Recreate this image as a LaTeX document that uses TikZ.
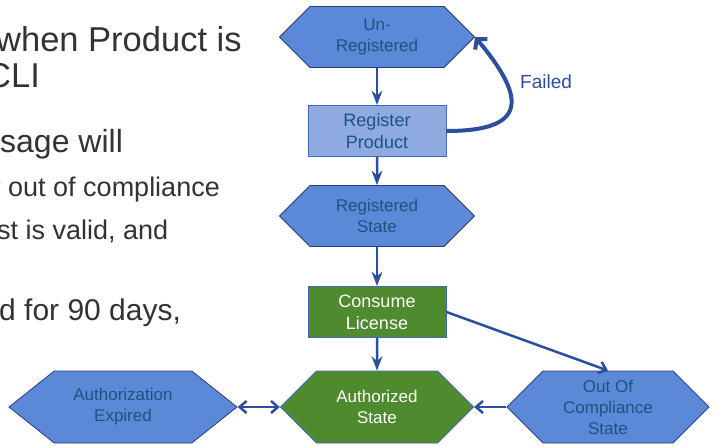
\documentclass[tikz,border=0pt]{standalone}
\usepackage{fontspec}
\setmainfont{Liberation Sans}
\usetikzlibrary{arrows.meta,positioning,shapes.symbols}
\definecolor{hexblue}{RGB}{91,137,216}
\definecolor{hexedge}{RGB}{40,62,120}
\definecolor{hextext}{RGB}{28,84,128}
\definecolor{boxblue}{RGB}{143,170,222}
\definecolor{boxedge}{RGB}{62,105,190}
\definecolor{okgreen}{RGB}{78,138,46}
\definecolor{arrowblue}{RGB}{44,78,158}
\definecolor{bodygray}{RGB}{51,51,51}

\begin{document}
\begin{tikzpicture}[x=1pt,y=-1pt,node distance=95pt,>=Stealth,
    link/.style={draw=arrowblue, line width=2.5pt},
    hex/.style={shape=signal, signal to=west and east, signal pointer angle=90,
      draw=hexedge, line width=0.8pt, fill=hexblue, text=hextext, align=center,
      font=\fontsize{17}{21}\selectfont, minimum width=195pt, minimum height=61pt, inner sep=0pt},
    greenhex/.style={hex, fill=okgreen, text=white, draw=boxedge},
    stepbox/.style={rectangle, draw=boxedge, line width=1pt, fill=boxblue, text=hextext,
      align=center, font=\fontsize{18}{22}\selectfont, minimum width=138pt, minimum height=51pt},
    side/.style={anchor=base west, inner sep=0pt, text=bodygray}]

    \useasboundingbox (0,0) rectangle (715,446);
    \clip (0,0) rectangle (715,446);

    \node (t1) [side, font=\fontsize{34.5}{40}\selectfont] at (-4,52) {when Product is};
    \node (t2) [side, font=\fontsize{34.5}{40}\selectfont] at (-14,88) {CLI};
    \node (t3) [side, font=\fontsize{32}{38}\selectfont] at (0,153) {sage will};
    \node (t4) [side, font=\fontsize{27}{32}\selectfont] at (-13,197) {y out of compliance};
    \node (t5) [side, font=\fontsize{27}{32}\selectfont] at (-3,240) {st is valid, and};
    \node (t6) [side, font=\fontsize{30}{36}\selectfont] at (-1,321) {d for 90 days,};

    \node (UR) [hex] at (377,37) {Un-\\Registered};
    \node (RP) [stepbox, below of=UR, yshift=1pt] {Register\\Product};
    \node (RS) [hex, below of=RP, yshift=10pt] {Registered\\State};
    \node (CL) [stepbox, below of=RS, yshift=-1pt, fill=okgreen, text=white] {Consume\\License};
    \node (AS) [greenhex, below of=CL, minimum height=72pt, minimum width=193pt] {Authorized\\State};
    \node (OC) [hex, right of=AS, node distance=231pt, minimum height=72pt, minimum width=202pt] {Out Of\\Compliance\\State};
    \node (AE) [hex, left of=AS, node distance=254pt, minimum height=72pt, minimum width=228pt,
      signal pointer angle=77] {Authorization\\Expired};

    \draw[link,->] (UR) -- (RP);
    \draw[link,->] (RP) -- (RS);
    \draw[link,->] (RS) -- (CL);
    \draw[link,->] (CL) -- (AS);
    \draw[link,-{Straight Barb[length=7pt,width=12pt]}] (CL.east) -- (OC.north);
    \draw[link,-{Straight Barb[length=7pt,width=12pt]}] (OC.west) -- (AS.east);
    \draw[link,{Straight Barb[length=7pt,width=12pt]}-{Straight Barb[length=7pt,width=12pt]}] (AE.east) -- (AS.west);

    \draw[link, line width=4pt, -{Straight Barb[length=7pt,width=16pt]}]
      (RP.east) to[out=0, in=-50, looseness=2.1]
      node[pos=0.72, right=9pt, text=arrowblue, font=\fontsize{19}{23}\selectfont] (F) {Failed} (UR.east);
  \end{tikzpicture}
\end{document}
